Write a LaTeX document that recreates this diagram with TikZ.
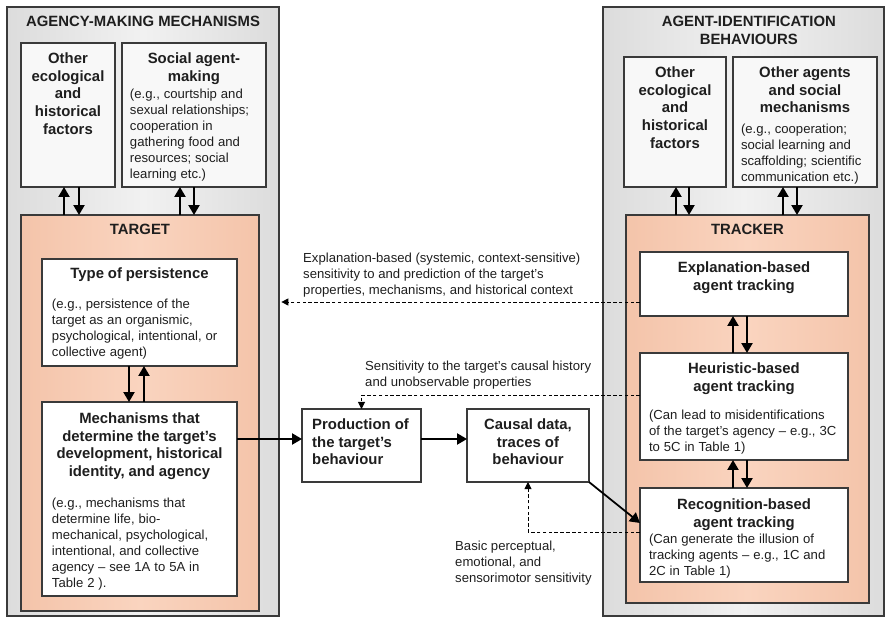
\documentclass[tikz,border=0pt]{standalone}
\usepackage{fontspec}
\setmainfont{Liberation Sans}
\usetikzlibrary{positioning,arrows.meta}

\definecolor{edgegray}{HTML}{3A3A3A}
\definecolor{inkgray}{HTML}{1E1E1E}
\definecolor{panelside}{HTML}{DCDCDC}
\definecolor{panelmid}{HTML}{F1F1F1}
\definecolor{peachside}{HTML}{F4C4AA}
\definecolor{peachmid}{HTML}{FAD4BF}
\definecolor{palebox}{HTML}{F8F8F8}

\newcommand{\boxhead}{\fontsize{12.7}{15.2}\selectfont\bfseries}
\newcommand{\boxnote}{\fontsize{11.2}{13.6}\selectfont}

\tikzset{
    panel/.style={draw=edgegray, line width=0.9pt, inner sep=0pt, outer sep=0pt,
        left color=panelside, right color=panelside, middle color=panelmid},
    core/.style={panel, left color=peachside, right color=peachside, middle color=peachmid},
    card/.style={draw=edgegray, line width=0.9pt, fill=white, inner sep=0pt, outer sep=0pt},
    palecard/.style={card, fill=palebox},
    txt/.style={inner sep=0pt, text=inkgray, align=center, font=\boxhead},
    mixed/.style={inner sep=0pt, text=inkgray, align=left, text width=#1},
    note/.style={inner sep=0pt, text=inkgray, align=left, font=\boxnote, anchor=north west},
    link/.style={line width=1.5pt, draw=black, -{Triangle[length=8.5pt,width=9.5pt]}},
    hint/.style={line width=0.8pt, draw=black, dash pattern=on 3pt off 2pt,
        -{Triangle[length=6pt,width=6pt]}},
}

\begin{document}
\begin{tikzpicture}[x=0.03cm, y=-0.03cm]
    \useasboundingbox (0,0) rectangle (887,618);

    % agency-making side
    \node[panel, minimum width=8.16cm, minimum height=18.27cm] (outerL) at (143,311.5) {};
    \node[palecard, minimum width=2.82cm, minimum height=4.32cm] (ecoL) at (68,115) {};
    \node[palecard, minimum width=4.32cm, minimum height=4.32cm] (socL) at (194,115) {};
    \node[core, minimum width=7.14cm, minimum height=11.88cm] (target) at (140,413) {};
    \node[card, minimum width=5.85cm, minimum height=3.21cm] (persist) at (139.5,312.5) {};
    \node[card, minimum width=5.85cm, minimum height=5.82cm] (mech) at (139.5,499) {};

    % middle
    \node[card, minimum width=3.57cm, minimum height=2.19cm] (prod) at (361.5,445.5) {};
    \node[card, minimum width=3.66cm, minimum height=2.19cm] (causal) at (528,445.5) {};

    % agent-identification side
    \node[panel, minimum width=8.43cm, minimum height=18.27cm] (outerR) at (743.5,311.5) {};
    \node[palecard, minimum width=3.06cm, minimum height=3.9cm] (ecoR) at (675,122) {};
    \node[palecard, minimum width=4.32cm, minimum height=3.9cm] (othR) at (805,122) {};
    \node[core, minimum width=7.29cm, minimum height=11.64cm] (tracker) at (747.5,409) {};
    \node[card, minimum width=6.24cm, minimum height=1.92cm] (expl) at (744,284) {};
    \node[card, minimum width=6.24cm, minimum height=3.21cm] (heur) at (744,406.5) {};
    \node[card, minimum width=6.24cm, minimum height=2.82cm] (recog) at (744,535) {};

    % texts
    \node[txt, below=0.28cm of outerL.north] (outerLt) {AGENCY-MAKING MECHANISMS};
    \node[txt, below=0.28cm of ecoL.north] (ecoLt) {Other\\ecological\\and\\historical\\factors};
    \node[mixed=3.84cm, below=0.28cm of socL.north] (socLt)
        {{\centering\boxhead Social agent-\\making\par}\vspace{1.4pt}
         {\boxnote (e.g., courtship and\\sexual relationships;\\cooperation in\\gathering food and\\resources; social\\learning etc.)\par}};
    \node[txt, below=0.28cm of target.north] (targett) {TARGET};
    \node[mixed=5.25cm, below=0.25cm of persist.north] (persistt)
        {{\centering\boxhead Type of persistence\par}\vspace{12.5pt}
         {\boxnote (e.g., persistence of the\\target as an organismic,\\psychological, intentional, or\\collective agent)\par}};
    \node[mixed=5.25cm, below=0.31cm of mech.north] (mecht)
        {{\centering\boxhead Mechanisms that\\determine the target's\\development, historical\\identity, and agency\par}\vspace{12.5pt}
         {\boxnote (e.g., mechanisms that\\determine life, bio-\\mechanical, psychological,\\intentional, and collective\\agency -- see 1A to 5A in\\Table 2 ).\par}};

    \node[txt, align=left, below right=0.28cm and 0.3cm of prod.north west] (prodt) {Production of\\the target's\\behaviour};
    \node[txt, below=0.28cm of causal.north] (causalt) {Causal data,\\traces of\\behaviour};

    \node[txt, below=0.28cm of outerR.north, xshift=0.16cm] (outerRt) {AGENT-IDENTIFICATION\\BEHAVIOURS};
    \node[txt, below=0.28cm of ecoR.north] (ecoRt) {Other\\ecological\\and\\historical\\factors};
    \node[mixed=3.84cm, below=0.28cm of othR.north] (othRt)
        {{\centering\boxhead Other agents\\and social\\mechanisms\par}\vspace{4pt}
         {\boxnote (e.g., cooperation;\\social learning and\\scaffolding; scientific\\communication etc.)\par}};
    \node[txt, below=0.28cm of tracker.north] (trackert) {TRACKER};
    \node[txt, below=0.28cm of expl.north] (explt) {Explanation-based\\agent tracking};
    \node[mixed=5.7cm, below=0.28cm of heur.north] (heurt)
        {{\centering\boxhead Heuristic-based\\agent tracking\par}\vspace{10.8pt}
         {\boxnote (Can lead to misidentifications\\of the target's agency -- e.g., 3C\\to 5C in Table 1)\par}};
    \node[mixed=5.7cm, below=0.31cm of recog.north] (recogt)
        {{\centering\boxhead Recognition-based\\agent tracking\par}\vspace{0.6pt}
         {\boxnote (Can generate the illusion of\\tracking agents -- e.g., 1C and\\2C in Table 1)\par}};

    % connector labels
    \node[note] (explnote) at (303,253) {Explanation-based (systemic, context-sensitive)\\sensitivity to and prediction of the target's\\properties, mechanisms, and historical context};
    \node[note] (heurnote) at (365,361) {Sensitivity to the target's causal history\\and unobservable properties};
    \node[note] (recognote) at (455,541) {Basic perceptual,\\emotional, and\\sensorimotor sensitivity};

    % two-way links
    \draw[link] (64,0 |- target.north) -- (64,0 |- ecoL.south);
    \draw[link] (79,0 |- ecoL.south) -- (79,0 |- target.north);
    \draw[link] (180,0 |- target.north) -- (180,0 |- socL.south);
    \draw[link] (194,0 |- socL.south) -- (194,0 |- target.north);
    \draw[link] (129,0 |- persist.south) -- (129,0 |- mech.north);
    \draw[link] (144,0 |- mech.north) -- (144,0 |- persist.south);
    \draw[link] (676,0 |- tracker.north) -- (676,0 |- ecoR.south);
    \draw[link] (689,0 |- ecoR.south) -- (689,0 |- tracker.north);
    \draw[link] (783,0 |- tracker.north) -- (783,0 |- othR.south);
    \draw[link] (797,0 |- othR.south) -- (797,0 |- tracker.north);
    \draw[link] (733,0 |- heur.north) -- (733,0 |- expl.south);
    \draw[link] (747,0 |- expl.south) -- (747,0 |- heur.north);
    \draw[link] (733,0 |- recog.north) -- (733,0 |- heur.south);
    \draw[link] (747,0 |- heur.south) -- (747,0 |- recog.north);

    % causal chain
    \draw[link] (mech.east |- 0,439) -- (prod.west |- 0,439);
    \draw[link] (prod.east |- 0,439) -- (causal.west |- 0,439);
    \draw[link] (causal.south east) -- (recog.west |- 0,523);

    % sensitivities
    \draw[hint, shorten >=2pt] (expl.west |- 0,302) -- (outerL.east |- 0,302);
    \draw[hint] (heur.west |- 0,395) -| (prod.north);
    \draw[hint] (recog.west |- 0,532) -| (causal.south);
\end{tikzpicture}
\end{document}
